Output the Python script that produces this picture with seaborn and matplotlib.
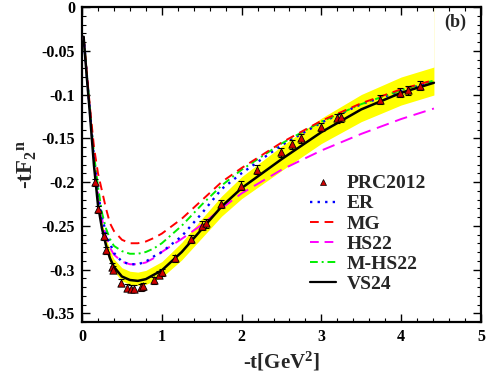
import matplotlib
matplotlib.use("Agg")
import matplotlib.pyplot as plt
import seaborn as sns
import pandas as pd
import numpy as np
from matplotlib.lines import Line2D
from matplotlib.ticker import MultipleLocator

# ---------------- data ----------------
t = [0.02, 0.06, 0.1, 0.15, 0.2, 0.25, 0.3, 0.35, 0.4, 0.5, 0.6, 0.7, 0.8, 0.9,
     1.0, 1.25, 1.5, 1.75, 2.0, 2.5, 3.0, 3.5, 4.0, 4.41]

vs24 = [-0.034, -0.080, -0.123, -0.181, -0.226, -0.253, -0.272, -0.287, -0.297, -0.308,
        -0.312, -0.313, -0.311, -0.306, -0.301, -0.280, -0.254, -0.228, -0.207, -0.174,
        -0.143, -0.117, -0.098, -0.0866]
band_hi = [-0.032, -0.077, -0.119, -0.176, -0.220, -0.246, -0.264, -0.278, -0.288, -0.298,
           -0.302, -0.303, -0.301, -0.296, -0.291, -0.269, -0.242, -0.216, -0.194, -0.159,
           -0.127, -0.100, -0.080, -0.0686]
band_lo = [-0.036, -0.083, -0.126, -0.185, -0.230, -0.258, -0.277, -0.292, -0.302, -0.313,
           -0.317, -0.318, -0.317, -0.313, -0.309, -0.289, -0.264, -0.239, -0.219, -0.187,
           -0.156, -0.131, -0.112, -0.1006]
mg = [-0.034, -0.075, -0.115, -0.160, -0.190, -0.210, -0.230, -0.247, -0.256, -0.266,
      -0.270, -0.270, -0.268, -0.264, -0.259, -0.242, -0.221, -0.200, -0.184, -0.155,
      -0.130, -0.110, -0.094, -0.0835]
mhs22 = [-0.034, -0.076, -0.118, -0.168, -0.205, -0.235, -0.253, -0.265, -0.273, -0.279,
         -0.282, -0.282, -0.280, -0.276, -0.270, -0.250, -0.226, -0.204, -0.186, -0.156,
         -0.131, -0.111, -0.095, -0.084]
er = [-0.034, -0.077, -0.120, -0.172, -0.212, -0.240, -0.258, -0.270, -0.281, -0.291,
      -0.294, -0.294, -0.291, -0.285, -0.280, -0.262, -0.236, -0.208, -0.190, -0.158,
      -0.132, -0.111, -0.096, -0.085]
hs22 = [-0.034, -0.077, -0.120, -0.172, -0.212, -0.242, -0.262, -0.275, -0.283, -0.291,
        -0.294, -0.294, -0.292, -0.287, -0.280, -0.265, -0.249, -0.230, -0.213, -0.186,
        -0.164, -0.145, -0.128, -0.116]

prc_t = [0.165, 0.205, 0.27, 0.30, 0.375, 0.39, 0.49, 0.56, 0.61, 0.65, 0.74, 0.77, 0.90,
         0.96, 1.0, 1.17, 1.36, 1.50, 1.55, 1.74, 1.99, 2.19, 2.49, 2.63, 2.74, 3.0, 3.19,
         3.24, 3.73, 3.98, 4.08, 4.24]
prc_f = [-0.200, -0.231, -0.262, -0.278, -0.297, -0.300, -0.315, -0.321, -0.322, -0.322,
         -0.320, -0.319, -0.312, -0.306, -0.303, -0.287, -0.265, -0.250, -0.247, -0.225,
         -0.204, -0.186, -0.166, -0.157, -0.150, -0.137, -0.127, -0.126, -0.106, -0.098,
         -0.095, -0.090]
prc_err = [0.004] * 16 + [0.005] * 16

# ---------------- style ----------------
sns.set_theme(style="ticks")
plt.rcParams["font.family"] = ["Liberation Serif", "DejaVu Serif"]
plt.rcParams["font.weight"] = "bold"
plt.rcParams["mathtext.fontset"] = "custom"
plt.rcParams["mathtext.rm"] = "Liberation Serif:bold"
plt.rcParams["mathtext.it"] = "Liberation Serif:bold"
plt.rcParams["mathtext.bf"] = "Liberation Serif:bold"
plt.rcParams["mathtext.default"] = "rm"

fig = plt.figure(figsize=(4.86, 3.77), dpi=100)
ax = fig.add_axes([82 / 486, 55 / 377, 399 / 486, 315 / 377])

df = pd.DataFrame({"t": t, "VS24": vs24, "hi": band_hi, "lo": band_lo,
                   "MG": mg, "M-HS22": mhs22, "ER": er, "HS22": hs22})

# uncertainty band
ax.fill_between(df["t"], df["lo"], df["hi"], color="#ffff00", lw=0, zorder=1)
ax.plot([t[-1], t[-1]], [band_hi[-1], 0], color="#fffcdc", lw=0.7, zorder=0.5)

styles = {
    "ER": dict(color="#0000ff", dashes=(1.0, 2.2), lw=1.7),
    "MG": dict(color="#ff0000", dashes=(4.5, 3.0), lw=1.4),
    "HS22": dict(color="#ff00ff", dashes=(6.5, 3.5), lw=1.4),
    "M-HS22": dict(color="#00ee00", dashes=(4.0, 2.0, 1.0, 2.0), lw=1.4),
}
for name in ["HS22", "ER", "M-HS22", "MG"]:
    s = styles[name]
    sns.lineplot(data=df, x="t", y=name, ax=ax, color=s["color"], lw=s["lw"],
                 sort=False, zorder=3, dashes=False).lines[-1].set_dashes(s["dashes"])

sns.lineplot(data=df, x="t", y="VS24", ax=ax, color="black", lw=1.8, sort=False, zorder=4)

ax.errorbar(prc_t, prc_f, yerr=prc_err, fmt="none", ecolor="black", elinewidth=0.8,
            capsize=2.2, capthick=0.8, zorder=5)
sns.scatterplot(x=prc_t, y=prc_f, ax=ax, marker="^", s=28, color="#d00000",
                edgecolor="black", linewidth=0.6, zorder=6)

ax.set_xlim(0, 5)
ax.set_ylim(-0.36, 0)
ax.xaxis.set_major_locator(MultipleLocator(1))
ax.xaxis.set_minor_locator(MultipleLocator(0.2))
ax.yaxis.set_major_locator(MultipleLocator(0.05))
ax.yaxis.set_minor_locator(MultipleLocator(0.01))
ax.set_xticklabels([f"{v:g}" for v in ax.get_xticks()])
ax.set_yticks([0, -0.05, -0.1, -0.15, -0.2, -0.25, -0.3, -0.35])
ax.set_yticklabels(["0", "-0.05", "-0.1", "-0.15", "-0.2", "-0.25", "-0.3", "-0.35"])
ax.tick_params(which="both", direction="in", top=True, right=True, colors="black",
               labelsize=11.5)
ax.tick_params(which="major", length=6, width=1.0, pad=5)
ax.tick_params(which="minor", length=3, width=0.8)
for lab in ax.get_xticklabels() + ax.get_yticklabels():
    lab.set_fontweight("bold")
for sp in ax.spines.values():
    sp.set_color("black")
    sp.set_linewidth(1.6)

ax.set_xlabel("-t[GeV$^2$]", fontsize=15, fontweight="bold", labelpad=4)
ax.set_ylabel("-tF$_2$$^{n}$", fontsize=16.5, fontweight="bold", labelpad=2)
ax.text(4.68, -0.018, "(b)", fontsize=13, fontweight="bold", ha="center", va="center")

handles = [
    Line2D([], [], ls="none", marker="^", markersize=5, color="#d00000",
           markeredgecolor="black", markeredgewidth=0.5),
    Line2D([], [], color="#0000ff", lw=1.7, dashes=(1.0, 2.2)),
    Line2D([], [], color="#ff0000", lw=1.4, dashes=(4.5, 3.0)),
    Line2D([], [], color="#ff00ff", lw=1.4, dashes=(4.5, 3.0)),
    Line2D([], [], color="#00ee00", lw=1.4, dashes=(4.0, 2.0, 1.0, 2.0)),
    Line2D([], [], color="black", lw=1.6),
]
labels = ["PRC2012", "ER", "MG", "HS22", "M-HS22", "VS24"]
leg = ax.legend(handles, labels, loc="upper left", bbox_to_anchor=(300 / 486, 1 - 165 / 377),
                bbox_transform=fig.transFigure, frameon=False, fontsize=14,
                handlelength=1.35, handletextpad=0.55, labelspacing=0.13, borderpad=0)
for txt in leg.get_texts():
    txt.set_fontweight("bold")

fig.savefig("out.png", dpi=100)
